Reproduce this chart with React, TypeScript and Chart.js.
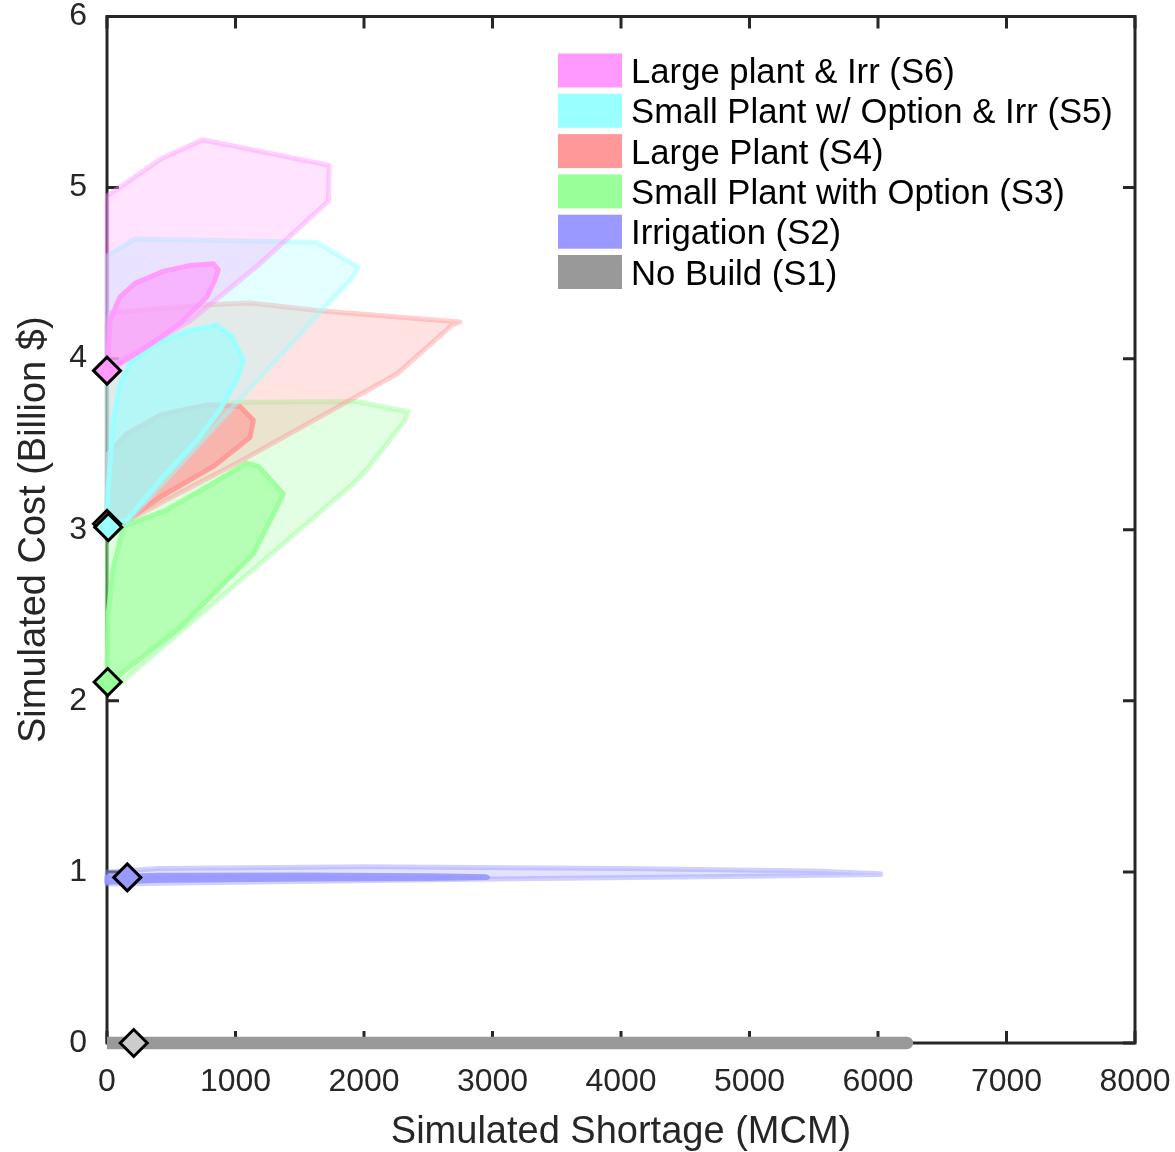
import React, { useEffect, useRef } from 'react';
import { Chart, registerables } from 'chart.js';

Chart.register(...registerables);

// Scenario names and colours, listed top to bottom as in the legend
const scenarioLabels = [
  'Large plant & Irr (S6)',
  'Small Plant w/ Option & Irr (S5)',
  'Large Plant (S4)',
  'Small Plant with Option (S3)',
  'Irrigation (S2)',
  'No Build (S1)',
];
const scenarioColors = ['#FF99FF', '#99FFFF', '#FF9999', '#99FF99', '#9999FF', '#999999'];

// Region outlines: [shortage (MCM), cost (billion $)]
// outer = wide spread of simulated outcomes, inner = core spread
const s6Outer = [[0, 3.95], [0, 4.95], [425, 5.17], [745, 5.28], [1730, 5.13], [1722, 4.92], [1190, 4.555], [646, 4.22], [179, 4.02], [10, 3.95]];
const s6Inner = [[10, 4.03], [23, 4.22], [100, 4.36], [218, 4.44], [438, 4.51], [646, 4.545], [827, 4.555], [866, 4.52], [840, 4.46], [776, 4.36], [568, 4.205], [309, 4.07], [100, 3.97], [10, 3.95]];
const s5Outer = [[0, 3.02], [0, 4.6], [218, 4.7], [1632, 4.68], [1956, 4.535], [1917, 4.48], [153, 3.04], [10, 3.02]];
const s5Inner = [[0, 3.03], [10, 3.25], [50, 3.64], [100, 3.85], [179, 3.97], [386, 4.09], [646, 4.165], [854, 4.195], [970, 4.13], [1061, 3.99], [1009, 3.875], [879, 3.7], [698, 3.52], [438, 3.31], [153, 3.055]];
const s4Outer = [[0, 3.0], [0, 4.2], [23, 4.27], [776, 4.315], [1113, 4.325], [1658, 4.28], [2747, 4.215], [2682, 4.195], [2254, 3.91], [1061, 3.41], [127, 3.04]];
const s4Inner = [[0, 3.0], [10, 3.445], [153, 3.56], [412, 3.67], [776, 3.73], [1035, 3.72], [1139, 3.64], [1113, 3.54], [827, 3.37], [412, 3.19], [127, 3.04]];
const s3Outer = [[0, 2.09], [0, 3.2], [49, 3.39], [127, 3.52], [438, 3.68], [776, 3.73], [1035, 3.745], [1943, 3.75], [2345, 3.69], [2319, 3.64], [2021, 3.35], [1917, 3.27], [101, 2.1]];
const s3Inner = [[0, 2.12], [10, 2.51], [49, 2.78], [127, 3.02], [451, 3.11], [776, 3.25], [1087, 3.39], [1178, 3.37], [1372, 3.21], [1320, 3.13], [1139, 2.86], [905, 2.685], [568, 2.43], [75, 2.14]];
const s2Outer = [[0, 0.93], [0, 1.0], [400, 1.02], [2000, 1.03], [4000, 1.02], [5500, 1.005], [6020, 0.99], [6020, 0.985], [5000, 0.975], [3000, 0.958], [1000, 0.94]];
const s2Inner = [[0, 0.94], [0, 0.97], [400, 0.98], [1500, 0.982], [2500, 0.978], [2950, 0.972], [2960, 0.967], [2500, 0.962], [1500, 0.958], [400, 0.952]];
const s1Range = [[0, 0], [6225, 0]];

// Median outcome of each scenario (S1 .. S6)
const medianShortage = [208, 158, 5, 0, 10, 0];
const medianCost = [0, 0.968, 2.11, 3.035, 3.015, 3.93];
const medianFill = ['#CCCCCC', '#9999FF', '#99FF99', '#FF9999', '#99FFFF', '#FF99FF'];

const xTickStep = 1000;
const yTickStep = 1;

const FONT = "'Liberation Sans', Arial, Helvetica, sans-serif";
const AXIS_COLOR = '#262626';

function rgba(hex: string, a: number) {
  const n = parseInt(hex.slice(1), 16);
  return `rgba(${(n >> 16) & 255}, ${(n >> 8) & 255}, ${n & 255}, ${a})`;
}

function closed(pts: number[][]) {
  const all = [...pts, pts[0]];
  return all.map(([x, y]) => ({ x, y }));
}

function regionDataset(pts: number[][], color: string, inner: boolean) {
  return {
    type: 'line' as const,
    data: closed(pts),
    borderColor: rgba(color, inner ? 0.92 : 0.45),
    backgroundColor: rgba(color, inner ? 0.62 : 0.27),
    borderWidth: 5,
    fill: 'shape',
    clip: 8,
    pointRadius: 0,
    pointHoverRadius: 0,
    tension: 0,
    borderJoinStyle: 'round' as const,
    borderCapStyle: 'round' as const,
  };
}

// Box frame with inward tick marks on all four sides, drawn beneath the data
const framePlugin = {
  id: 'boxFrame',
  beforeDatasetsDraw(chart: any) {
    const { ctx, chartArea, scales } = chart;
    const { left, right, top, bottom } = chartArea;
    const len = 12;
    ctx.save();
    ctx.strokeStyle = AXIS_COLOR;
    ctx.lineWidth = 3;
    ctx.beginPath();
    for (const t of scales.x.ticks) {
      const px = scales.x.getPixelForValue(t.value);
      ctx.moveTo(px, bottom);
      ctx.lineTo(px, bottom - len);
      ctx.moveTo(px, top);
      ctx.lineTo(px, top + len);
    }
    for (const t of scales.y.ticks) {
      const py = scales.y.getPixelForValue(t.value);
      ctx.moveTo(left, py);
      ctx.lineTo(left + len, py);
      ctx.moveTo(right, py);
      ctx.lineTo(right - len, py);
    }
    ctx.stroke();
    ctx.strokeRect(left, top, right - left, bottom - top);
    ctx.restore();
  },
};

// Legend of filled swatches in the upper right of the plot
const legendPlugin = {
  id: 'swatchLegend',
  afterDraw(chart: any) {
    const { ctx, chartArea } = chart;
    const x0 = chartArea.left + 451;
    const y0 = chartArea.top + 37;
    const rowH = 40.3;
    ctx.save();
    ctx.font = `34.7px ${FONT}`;
    ctx.textBaseline = 'middle';
    ctx.textAlign = 'left';
    scenarioLabels.forEach((label, i) => {
      const top = y0 + i * rowH;
      ctx.fillStyle = scenarioColors[i];
      ctx.fillRect(x0, top, 64, 34);
      ctx.fillStyle = '#000000';
      ctx.fillText(label, x0 + 73, top + 20);
    });
    ctx.restore();
  },
};

export default function App() {
  const canvasRef = useRef<HTMLCanvasElement | null>(null);

  useEffect(() => {
    const canvas = canvasRef.current;
    if (!canvas) return;

    const [c6, c5, c4, c3, c2, c1] = scenarioColors;

    // listed bottom layer first
    const layers: any[] = [
      {
        type: 'line',
        data: s1Range.map(([x, y]) => ({ x, y })),
        borderColor: c1,
        borderWidth: 12.5,
        borderCapStyle: 'round',
        pointRadius: 0,
        pointHoverRadius: 0,
        fill: false,
        clip: { left: 0, top: 10, right: 10, bottom: 10 },
      },
      regionDataset(s2Outer, c2, false),
      regionDataset(s2Inner, c2, true),
      regionDataset(s3Outer, c3, false),
      regionDataset(s3Inner, c3, true),
      regionDataset(s4Outer, c4, false),
      regionDataset(s4Inner, c4, true),
      regionDataset(s5Outer, c5, false),
      regionDataset(s5Inner, c5, true),
      regionDataset(s6Outer, c6, false),
      regionDataset(s6Inner, c6, true),
    ];
    medianShortage.forEach((x, i) => {
      layers.push({
        type: 'line',
        data: [{ x, y: medianCost[i] }],
        showLine: false,
        pointStyle: 'rectRot',
        pointRadius: 13.5,
        pointHoverRadius: 13.5,
        pointBackgroundColor: medianFill[i],
        pointBorderColor: '#000000',
        pointBorderWidth: 3,
        fill: false,
        clip: false,
      });
    });
    const n = layers.length;
    const datasets = layers.map((d, i) => ({ ...d, order: n - i }));

    const chart = new Chart(canvas, {
      type: 'line',
      data: { datasets },
      options: {
        responsive: false,
        animation: false,
        devicePixelRatio: 1,
        layout: { padding: { left: 0, right: 40, top: 16, bottom: 0 } },
        plugins: {
          legend: { display: false },
          tooltip: { enabled: false },
          title: { display: false },
        },
        scales: {
          x: {
            type: 'linear',
            min: 0,
            max: 8000,
            grid: { display: false, drawTicks: false },
            border: { display: false },
            ticks: {
              stepSize: xTickStep,
              padding: 20,
              color: AXIS_COLOR,
              font: { size: 32, family: FONT },
              maxRotation: 0,
              autoSkip: false,
              callback: (v: any) => String(v),
            },
            title: {
              display: true,
              text: 'Simulated Shortage (MCM)',
              color: AXIS_COLOR,
              font: { size: 38, family: FONT, lineHeight: 1.05 },
              padding: { top: 0, bottom: 0 },
            },
            afterFit(scale: any) {
              scale.height = 109;
              scale.paddingLeft = 0;
              scale.paddingRight = 0;
            },
          },
          y: {
            type: 'linear',
            min: 0,
            max: 6,
            grid: { display: false, drawTicks: false },
            border: { display: false },
            ticks: {
              stepSize: yTickStep,
              padding: 20,
              color: AXIS_COLOR,
              font: { size: 32, family: FONT },
              callback: (v: any) => String(v),
            },
            title: {
              display: true,
              text: 'Simulated Cost (Billion $)',
              color: AXIS_COLOR,
              font: { size: 38, family: FONT },
              padding: { top: 12, bottom: 0 },
            },
            afterFit(scale: any) {
              scale.width = 107;
              scale.paddingTop = 0;
              scale.paddingBottom = 0;
            },
          },
        },
      } as any,
      plugins: [framePlugin, legendPlugin],
    });

    return () => chart.destroy();
  }, []);

  return (
    <div style={{ position: 'absolute', left: 0, top: 0, width: 1175, height: 1152, background: '#ffffff' }}>
      <canvas ref={canvasRef} width={1175} height={1152} />
    </div>
  );
}
